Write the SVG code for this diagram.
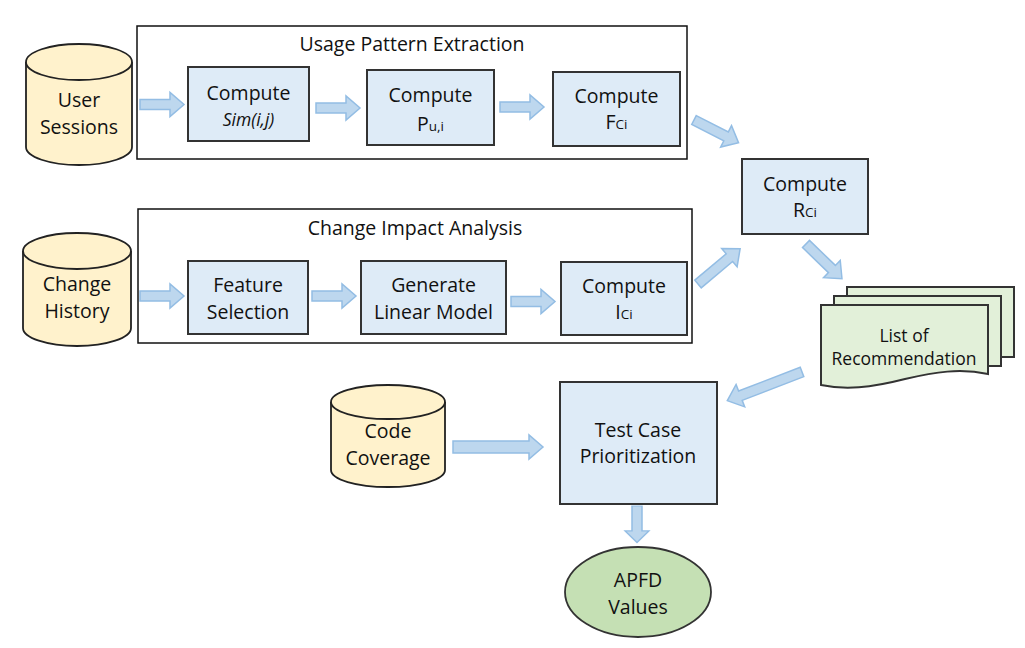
<svg xmlns="http://www.w3.org/2000/svg" width="1025" height="648" viewBox="0 0 1025 648">
<style>
text{font-family:"Open Sans","Liberation Sans",sans-serif;font-size:19.5px;fill:#111;text-anchor:middle}
.sub{font-size:13.5px}
.cont{fill:#fff;stroke:#111;stroke-width:1.5}
.box{fill:#deebf7;stroke:#333;stroke-width:2}
.cyl{fill:#fff2cc;stroke:#222;stroke-width:1.8}
.doc{fill:#e2f0d9;stroke:#333;stroke-width:2}
.ell{fill:#c5e0b4;stroke:#333;stroke-width:1.8}
.arr{fill:#bdd7ee;stroke:#93bde4;stroke-width:1.5;stroke-linejoin:miter}
</style>
<defs>
<path id="a44" d="M0,-5 H30 V-12 L44,0 L30,12 V5 H0 Z"/>
<path id="a50" d="M0,-5 H36 V-12 L50,0 L36,12 V5 H0 Z"/>
<path id="a55" d="M0,-5 H41 V-12 L55,0 L41,12 V5 H0 Z"/>
<path id="a80" d="M0,-5 H66 V-12 L80,0 L66,12 V5 H0 Z"/>
<path id="a90" d="M0,-6 H76 V-12 L90,0 L76,12 V6 H0 Z"/>
</defs>
<rect width="1025" height="648" fill="#fff"/>

<g id="usage-pattern-extraction">
<rect class="cont" x="137" y="26" width="550" height="133"/>
<text x="412" y="51">Usage Pattern Extraction</text>
</g>
<g id="change-impact-analysis">
<rect class="cont" x="138" y="209" width="554" height="134"/>
<text x="415" y="235">Change Impact Analysis</text>
</g>

<g id="user-sessions">
<path class="cyl" d="M26,62 V147 A53,18 0 0 0 132,147 V62"/>
<ellipse class="cyl" cx="79" cy="62" rx="53" ry="18"/>
<text x="79" y="107">User</text>
<text x="79" y="134">Sessions</text>
</g>
<g id="change-history">
<path class="cyl" d="M23,251 V328 A54,18 0 0 0 131,328 V251"/>
<ellipse class="cyl" cx="77" cy="251" rx="54" ry="18"/>
<text x="77" y="291">Change</text>
<text x="77" y="318">History</text>
</g>
<g id="code-coverage">
<path class="cyl" d="M331,402 V470 A57,17 0 0 0 445,470 V402"/>
<ellipse class="cyl" cx="388" cy="402" rx="57" ry="17"/>
<text x="388" y="438">Code</text>
<text x="388" y="465">Coverage</text>
</g>

<g id="compute-sim">
<rect class="box" x="188" y="67" width="121" height="74"/>
<text x="248.5" y="100">Compute</text>
<text x="248.5" y="126" style="font-style:italic;font-size:17.5px">Sim(i,j)</text>
</g>
<g id="compute-pui">
<rect class="box" x="367" y="70" width="127" height="75"/>
<text x="430.5" y="102">Compute</text>
<text x="430.5" y="131">P<tspan class="sub">u,i</tspan></text>
</g>
<g id="compute-fci">
<rect class="box" x="553" y="72" width="127" height="74"/>
<text x="616.5" y="103">Compute</text>
<text x="616.5" y="129">F<tspan class="sub">Ci</tspan></text>
</g>
<g id="compute-rci">
<rect class="box" x="742" y="159" width="126" height="75"/>
<text x="805" y="191">Compute</text>
<text x="805" y="217">R<tspan class="sub">Ci</tspan></text>
</g>
<g id="feature-selection">
<rect class="box" x="188" y="261" width="120" height="73"/>
<text x="248" y="292">Feature</text>
<text x="248" y="319">Selection</text>
</g>
<g id="generate-linear-model">
<rect class="box" x="361" y="261" width="145" height="73"/>
<text x="433.5" y="292">Generate</text>
<text x="433.5" y="319">Linear Model</text>
</g>
<g id="compute-ici">
<rect class="box" x="561" y="262" width="126" height="73"/>
<text x="624" y="293">Compute</text>
<text x="624" y="319">I<tspan class="sub">Ci</tspan></text>
</g>

<g id="list-of-recommendation">
<rect class="doc" x="847" y="287" width="167" height="70"/>
<rect class="doc" x="834" y="296" width="167" height="70"/>
<path class="doc" d="M821,305 H988 V374 C960,368 935,372 905,379 C870,388 845,390 821,385 Z"/>
<text x="904" y="342" style="font-size:17.5px">List of</text>
<text x="904" y="365" style="font-size:17.5px">Recommendation</text>
</g>

<g id="test-case-prioritization">
<rect class="box" x="560" y="382" width="157" height="122"/>
<text x="638" y="437">Test Case</text>
<text x="638" y="463">Prioritization</text>
</g>
<g id="apfd-values">
<ellipse class="ell" cx="638" cy="592" rx="73" ry="45"/>
<text x="638" y="587">APFD</text>
<text x="638" y="614">Values</text>
</g>

<g id="connectors">
<use href="#a44" class="arr" transform="translate(140,104.5)"/>
<use href="#a44" class="arr" transform="translate(316,108)"/>
<use href="#a44" class="arr" transform="translate(500,107)"/>
<use href="#a44" class="arr" transform="translate(140,296)"/>
<use href="#a44" class="arr" transform="translate(312,296)"/>
<use href="#a44" class="arr" transform="translate(511,301.5)"/>
<use href="#a50" class="arr" transform="translate(694,120) rotate(27)"/>
<use href="#a55" class="arr" transform="translate(698,284) rotate(-40)"/>
<use href="#a50" class="arr" transform="translate(806,244) rotate(44)"/>
<use href="#a80" class="arr" transform="translate(802,372) rotate(159)"/>
<use href="#a90" class="arr" transform="translate(453,447)"/>
<use href="#a44" class="arr" transform="translate(637,506) rotate(90) scale(0.83,1)"/>
</g>
</svg>
